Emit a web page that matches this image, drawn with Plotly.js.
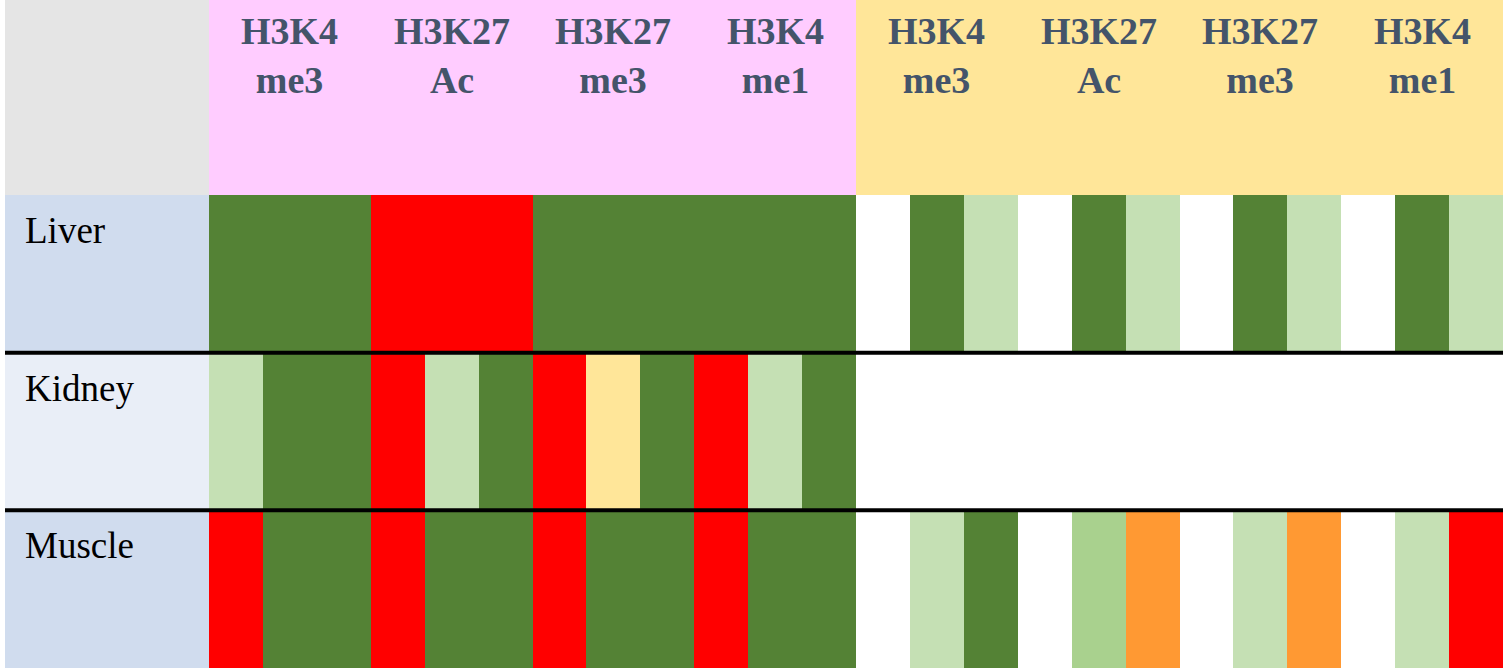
<!DOCTYPE html>
<html>
<head>
<meta charset="utf-8">
<script src="https://cdn.plot.ly/plotly-3.0.1.min.js"></script>
<style>html,body{margin:0;padding:0;background:#fff;}#chart{width:1503px;height:670px;}</style>
</head>
<body>
<div id="chart"></div>
<script>
// ---- data ----
const tissues = ["Liver", "Kidney", "Muscle"];
const marks = ["H3K4<br>me3", "H3K27<br>Ac", "H3K27<br>me3", "H3K4<br>me1",
               "H3K4<br>me3", "H3K27<br>Ac", "H3K27<br>me3", "H3K4<br>me1"];
// state codes: 0 none, 1 strong, 2 weak, 3 medium, 4 red, 5 orange, 6 yellow
const stateNames = ["none", "strong", "weak", "medium", "red", "orange", "yellow"];
const liver  = [1,1,1, 4,4,4, 1,1,1, 1,1,1,   0,1,2, 0,1,2, 0,1,2, 0,1,2];
const kidney = [2,1,1, 4,2,1, 4,6,1, 4,2,1,   0,0,0, 0,0,0, 0,0,0, 0,0,0];
const muscle = [4,1,1, 4,1,1, 4,1,1, 4,1,1,   0,2,1, 0,3,5, 0,2,5, 0,2,4];

// ---- styles ----
const stateColors = ["#FFFFFF", "#548235", "#C5E0B4", "#A9D18E", "#FF0000", "#FF9933", "#FFE699"];
const W = 1503, H = 670;
const labelLeftPx = 5, cellLeftPx = 209, headerPx = 195, bottomPx = 668;
const nSub = liver.length;
const subW = (W - cellLeftPx) / nSub;
const rowH = (bottomPx - headerPx) / tissues.length;
const xMin = -cellLeftPx / subW, xLabel = -(cellLeftPx - labelLeftPx) / subW;
const yTop = -headerPx / rowH, yBot = tissues.length + (H - bottomPx) / rowH;

const nS = stateColors.length;
const colorscale = [];
stateColors.forEach((c, i) => {
  colorscale.push([i / nS, c]);
  colorscale.push([(i + 1) / nS, c]);
});

const z = [liver, kidney, muscle];
const xs = liver.map((_, i) => i + 0.5);
const ys = tissues.map((_, i) => i + 0.5);

const trace = {
  type: "heatmap",
  x: xs, y: ys, z: z,
  zmin: -0.5, zmax: nS - 0.5,
  colorscale: colorscale,
  showscale: false,
  hoverinfo: "skip"
};

const shapes = [
  {type: "rect", xref: "x", yref: "y", x0: xLabel, x1: 0, y0: yTop, y1: 0, fillcolor: "#E5E5E5", line: {width: 0}, layer: "below"},
  {type: "rect", xref: "x", yref: "y", x0: 0, x1: nSub / 2, y0: yTop, y1: 0, fillcolor: "#FFCCFF", line: {width: 0}, layer: "below"},
  {type: "rect", xref: "x", yref: "y", x0: nSub / 2, x1: nSub, y0: yTop, y1: 0, fillcolor: "#FFE699", line: {width: 0}, layer: "below"}
];
const labelBg = ["#D0DCEE", "#E9EEF7", "#D0DCEE"];
tissues.forEach((t, i) => {
  shapes.push({type: "rect", xref: "x", yref: "y", x0: xLabel, x1: 0, y0: i, y1: i + 1, fillcolor: labelBg[i], line: {width: 0}, layer: "below"});
});
for (let i = 1; i < tissues.length; i++) {
  shapes.push({type: "line", xref: "x", yref: "y", x0: xLabel, x1: nSub, y0: i, y1: i, line: {color: "#000000", width: 4}});
}

const annotations = [];
marks.forEach((m, g) => {
  annotations.push({
    xref: "x", yref: "paper", x: g * 3 + 1.5, y: 1 - 56 / H,
    xanchor: "center", yanchor: "middle", showarrow: false, align: "center",
    text: "<b>" + m + "</b>",
    font: {family: "Liberation Serif, serif", size: 38, color: "#44546A"}
  });
});
tissues.forEach((t, i) => {
  annotations.push({
    xref: "paper", yref: "y", x: 23 / W, y: i, yshift: -13,
    xanchor: "left", yanchor: "top", showarrow: false, align: "left",
    text: t,
    font: {family: "Liberation Serif, serif", size: 37, color: "#000000"}
  });
});

const layout = {
  width: W, height: H,
  margin: {l: 0, r: 0, t: 0, b: 0, pad: 0},
  paper_bgcolor: "#FFFFFF", plot_bgcolor: "#FFFFFF",
  xaxis: {range: [xMin, nSub], showgrid: false, zeroline: false, showticklabels: false, ticks: "", showline: false, fixedrange: true},
  yaxis: {range: [yBot, yTop], showgrid: false, zeroline: false, showticklabels: false, ticks: "", showline: false, fixedrange: true},
  shapes: shapes,
  annotations: annotations,
  showlegend: false
};

Plotly.newPlot("chart", [trace], layout, {displayModeBar: false, staticPlot: true});
</script>
</body>
</html>
